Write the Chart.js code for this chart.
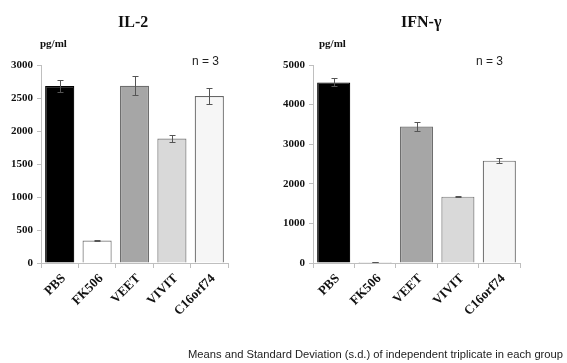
<!DOCTYPE html>
<html><head><meta charset="utf-8">
<script src="https://cdn.jsdelivr.net/npm/chart.js@4/dist/chart.umd.min.js"></script>
<style>
html,body{margin:0;padding:0;background:#fff;}
#wrap{position:relative;width:567px;height:363px;overflow:hidden;}
.c{position:absolute;top:0;}
.t{position:absolute;font-family:"Liberation Serif",serif;font-weight:bold;color:#111;white-space:nowrap;}
.n{position:absolute;font-family:"Liberation Sans",sans-serif;font-size:12px;color:#222;white-space:nowrap;}
#foot{position:absolute;left:188px;top:348px;font-family:"Liberation Sans",sans-serif;font-size:11.2px;color:#222;white-space:nowrap;}
</style></head>
<body><div id="wrap">
<div class="c" style="left:0;width:283px;height:363px;"><canvas id="c1"></canvas></div>
<div class="c" style="left:270px;width:297px;height:363px;"><canvas id="c2"></canvas></div>
<div class="t" style="left:118px;top:13px;font-size:16px;">IL-2</div>
<div class="t" style="left:401px;top:13px;font-size:16px;">IFN-γ</div>
<div class="t" style="left:40px;top:37px;font-size:11px;">pg/ml</div>
<div class="t" style="left:319px;top:37px;font-size:11px;">pg/ml</div>
<div class="n" style="left:192px;top:54px;">n = 3</div>
<div class="n" style="left:476px;top:54px;">n = 3</div>
<div id="foot">Means and Standard Deviation (s.d.) of independent triplicate in each group</div>
</div>
<script>
const categories = ["PBS","FK506","VEET","VIVIT","C16orf74"];
const il2Values = [2680, 340, 2685, 1885, 2530];
const il2Errors = [90, 8, 145, 50, 115];
const ifnValues = [4560, 25, 3445, 1675, 2585];
const ifnErrors = [100, 5, 105, 18, 55];
const il2Ticks = [0, 500, 1000, 1500, 2000, 2500, 3000];
const ifnTicks = [0, 1000, 2000, 3000, 4000, 5000];

const fills = ["#000000","#ffffff","#a6a6a6","#d9d9d9","#f6f6f6"];
const borders = ["#000000","#777777","#6e6e6e","#7a7a7a","#666666"];

const errPlugin = {
  id:'err',
  afterDatasetsDraw(chart){
    const errs = chart.options.plugins.err.errors;
    const meta = chart.getDatasetMeta(0);
    const ys = chart.scales.y;
    const ctx = chart.ctx;
    ctx.save();
    ctx.strokeStyle = '#555';
    ctx.lineWidth = 1;
    meta.data.forEach((bar,i)=>{
      const v = chart.data.datasets[0].data[i];
      const e = errs[i];
      const x = Math.round(bar.x)+0.5;
      const yt = Math.round(ys.getPixelForValue(v+e))+0.5;
      const yb = Math.round(ys.getPixelForValue(v-e))+0.5;
      ctx.beginPath();
      ctx.moveTo(x,yt);ctx.lineTo(x,yb);
      ctx.moveTo(x-3,yt);ctx.lineTo(x+3,yt);
      ctx.moveTo(x-3,yb);ctx.lineTo(x+3,yb);
      ctx.stroke();
    });
    ctx.restore();
  }
};

function make(id, values, errors, ticks, max, yWidth, padRight, pct){
  return new Chart(document.getElementById(id), {
    type:'bar',
    data:{labels:categories, datasets:[{data:values, backgroundColor:fills, borderColor:borders, borderWidth:1.2, categoryPercentage:pct, barPercentage:1}]},
    options:{
      responsive:false, animation:false, devicePixelRatio:1,
      layout:{padding:{left:0,top:65,right:padRight,bottom:40}},
      plugins:{legend:{display:false}, tooltip:{enabled:false}, err:{errors:errors}},
      scales:{
        x:{
          grid:{display:true, drawOnChartArea:false, drawTicks:true, tickLength:5, color:'#bfbfbf', offset:true},
          border:{display:true, color:'#bfbfbf', width:1},
          ticks:{minRotation:45, maxRotation:45, autoSkip:false, padding:3, labelOffset:4, color:'#111', font:{family:'"Liberation Serif", serif', weight:'bold', size:13}},
          afterFit(s){ s.height = 60; }
        },
        y:{
          min:0, max:max,
          afterBuildTicks(s){ s.ticks = ticks.map(v=>({value:v})); },
          grid:{display:true, drawOnChartArea:false, drawTicks:true, tickLength:4, color:'#bfbfbf'},
          border:{display:true, color:'#bfbfbf', width:1},
          ticks:{padding:4, color:'#111', font:{family:'"Liberation Serif", serif', weight:'bold', size:11}, callback:(v)=>String(v)},
          afterFit(s){ s.width = yWidth; }
        }
      }
    },
    plugins:[errPlugin]
  });
}
const c1 = document.getElementById('c1'); c1.width=283; c1.height=363;
const c2 = document.getElementById('c2'); c2.width=297; c2.height=363;
make('c1', il2Values, il2Errors, il2Ticks, 3000, 41, 55, 0.78);
make('c2', ifnValues, ifnErrors, ifnTicks, 5000, 43, 47, 0.8);
</script>
</body></html>
